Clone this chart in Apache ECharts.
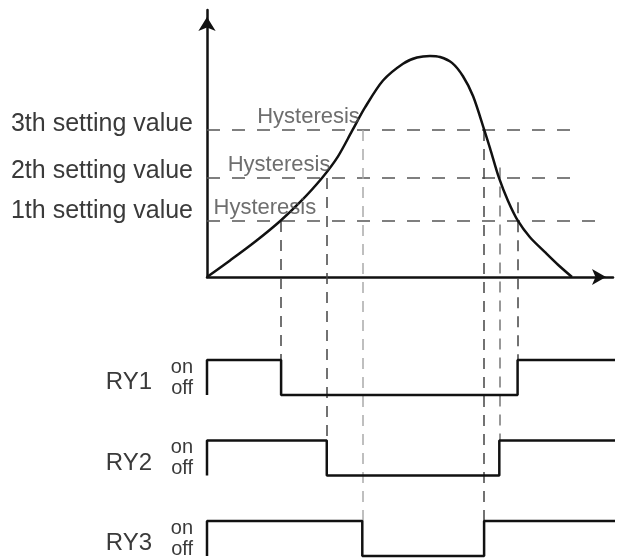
<!DOCTYPE html>
<html>
<head>
<meta charset="utf-8">
<script src="https://cdn.jsdelivr.net/npm/echarts@6/dist/echarts.min.js"></script>
<style>
  html, body { margin: 0; padding: 0; background: #fff; }
  #main { width: 619px; height: 560px; }
</style>
</head>
<body>
<div id="main"></div>
<script>
// process value curve (time, value)
var curveT = [0, 2.27, 4.73, 7.19, 9.16, 11.33, 12.91, 14.29, 15.57, 17.34, 19.31, 20.69, 21.97, 22.96, 24.14, 25.22, 26.21, 27.29, 27.88, 28.77, 29.66, 30.64, 31.82, 33.3, 34.58, 35.96];
var curveV = [0, 6.2, 13.2, 20.9, 28.0, 37.1, 45.2, 54.7, 63.5, 73.6, 79.9, 82.2, 82.8, 82.4, 80.2, 75.2, 67.8, 55.4, 48.3, 37.1, 28.5, 21.0, 14.9, 9.3, 4.6, 0];

// setting values
var settingNames = ['1th setting value', '2th setting value', '3th setting value'];
var settingLevels = [21, 37.1, 55.1];
var settingLineEnd = [39, 36.5, 36.5];
var hystT = [5.7, 7.1, 10.0];

// relays: time switched off (rising) and back on (falling)
var relayNames = ['RY1', 'RY2', 'RY3'];
var relayOffT = [7.3, 11.8, 15.3];
var relayOnT = [30.6, 28.8, 27.3];
var onLineTop = [28, 41, 55.1];
var endT = 40.6;

var myChart = echarts.init(document.getElementById('main'));
var textColor = '#3a3a3a';
var font = 'Liberation Sans, Arial, sans-serif';

var grids = [{ left: 207, top: 10, right: 6, bottom: 283, outerBoundsMode: 'none' }];
var xAxes = [{
    gridIndex: 0, type: 'value', min: 0, max: 40,
    axisLine: { show: true, lineStyle: { color: '#111', width: 2.5 }, symbol: ['none', 'arrow'], symbolSize: [12, 14], symbolOffset: [0, -7] },
    axisTick: { show: false }, axisLabel: { show: false }, splitLine: { show: false }
}];
var yAxes = [{
    gridIndex: 0, type: 'value', min: 0, max: 100,
    axisLine: { show: true, onZero: false, lineStyle: { color: '#111', width: 2.5 }, symbol: ['none', 'arrow'], symbolSize: [13, 14], symbolOffset: [0, -7] },
    axisTick: { show: false }, splitLine: { show: false },
    axisLabel: {
        customValues: settingLevels,
        margin: 14,
        fontSize: 25, fontFamily: font, color: textColor,
        verticalAlign: 'bottom',
        formatter: function (v) {
            var i = settingLevels.indexOf(v);
            return '{s' + i + '|' + settingNames[i] + '}';
        },
        rich: {
            s0: { fontSize: 25, fontFamily: font, color: textColor, lineHeight: 20 },
            s1: { fontSize: 25, fontFamily: font, color: textColor, lineHeight: 14 },
            s2: { fontSize: 25, fontFamily: font, color: textColor, lineHeight: 12 }
        }
    }
}];

var series = [];

// 设定值水平虚线
series.push({
    type: 'lines', coordinateSystem: 'cartesian2d', xAxisIndex: 0, yAxisIndex: 0,
    clip: false, silent: true, z: 1,
    lineStyle: { color: '#555', width: 1.5, type: [13, 12], opacity: 1 },
    data: settingLevels.map(function (lv, i) { return { coords: [[0, lv], [settingLineEnd[i], lv]] }; })
});

// 过程值曲线
series.push({
    type: 'line', xAxisIndex: 0, yAxisIndex: 0, smooth: 0.3, showSymbol: false, z: 5,
    lineStyle: { color: '#111', width: 2.5 },
    data: curveT.map(function (t, i) { return [t, curveV[i]]; })
});

// Hysteresis 文字
series.push({
    type: 'scatter', xAxisIndex: 0, yAxisIndex: 0, symbolSize: 0, z: 6,
    label: { show: true, position: 'inside', offset: [0, -13], formatter: 'Hysteresis', fontSize: 22, fontFamily: font, color: '#4a4a4a' },
    data: hystT.map(function (t, i) { return [t, settingLevels[i]]; })
});

// 继电器
relayNames.forEach(function (name, i) {
    var gi = i + 1;
    grids.push({ left: 207, right: 6, top: 360 + 80.5 * i, height: 35, outerBoundsMode: 'none' });
    xAxes.push({ gridIndex: gi, type: 'value', min: 0, max: 40, show: false });
    yAxes.push({
        gridIndex: gi, type: 'value', min: 0, max: 1,
        name: name, nameLocation: 'middle', nameRotate: 0, nameGap: 55,
        nameTextStyle: { fontSize: 24, fontFamily: font, color: textColor, verticalAlign: 'top', lineHeight: 10 },
        axisLine: { show: false }, axisTick: { show: false }, splitLine: { show: false },
        axisLabel: {
            customValues: [0.2, 0.8], margin: 14,
            fontSize: 20, fontFamily: font, color: textColor,
            formatter: function (v) { return v < 0.5 ? 'off' : 'on'; }
        }
    });
    series.push({
        type: 'line', xAxisIndex: gi, yAxisIndex: gi, showSymbol: false, clip: false, z: 5,
        lineStyle: { color: '#111', width: 2.5 },
        data: [[0, 0], [0, 1], [relayOffT[i], 1], [relayOffT[i], 0], [relayOnT[i], 0], [relayOnT[i], 1], [endT, 1]]
    });
});

// 竖向虚线 (数据在下面计算)
series.push({
    id: 'connectors', type: 'lines', coordinateSystem: 'cartesian2d', xAxisIndex: 0, yAxisIndex: 0,
    clip: false, silent: true, z: 2,
    lineStyle: { color: '#444', width: 1.5, type: [11, 8], opacity: 1 },
    data: []
});

var option = {
    backgroundColor: '#fff',
    animation: false,
    grid: grids,
    xAxis: xAxes,
    yAxis: yAxes,
    series: series
};
myChart.setOption(option);

// 继电器"on"位置换算到主图坐标
var connectors = [];
relayNames.forEach(function (name, i) {
    var py = myChart.convertToPixel({ gridIndex: i + 1 }, [0, 1])[1];
    var bottom = myChart.convertFromPixel({ gridIndex: 0 }, [0, py])[1];
    connectors.push({ coords: [[relayOffT[i], settingLevels[i]], [relayOffT[i], bottom]],
        lineStyle: { color: i == 2 ? '#aaa' : '#444' } });
    connectors.push({ coords: [[relayOnT[i], onLineTop[i]], [relayOnT[i], bottom]],
        lineStyle: { color: i == 1 ? '#777' : '#444' } });
});
myChart.setOption({ series: [{ id: 'connectors', data: connectors }] });
</script>
</body>
</html>
